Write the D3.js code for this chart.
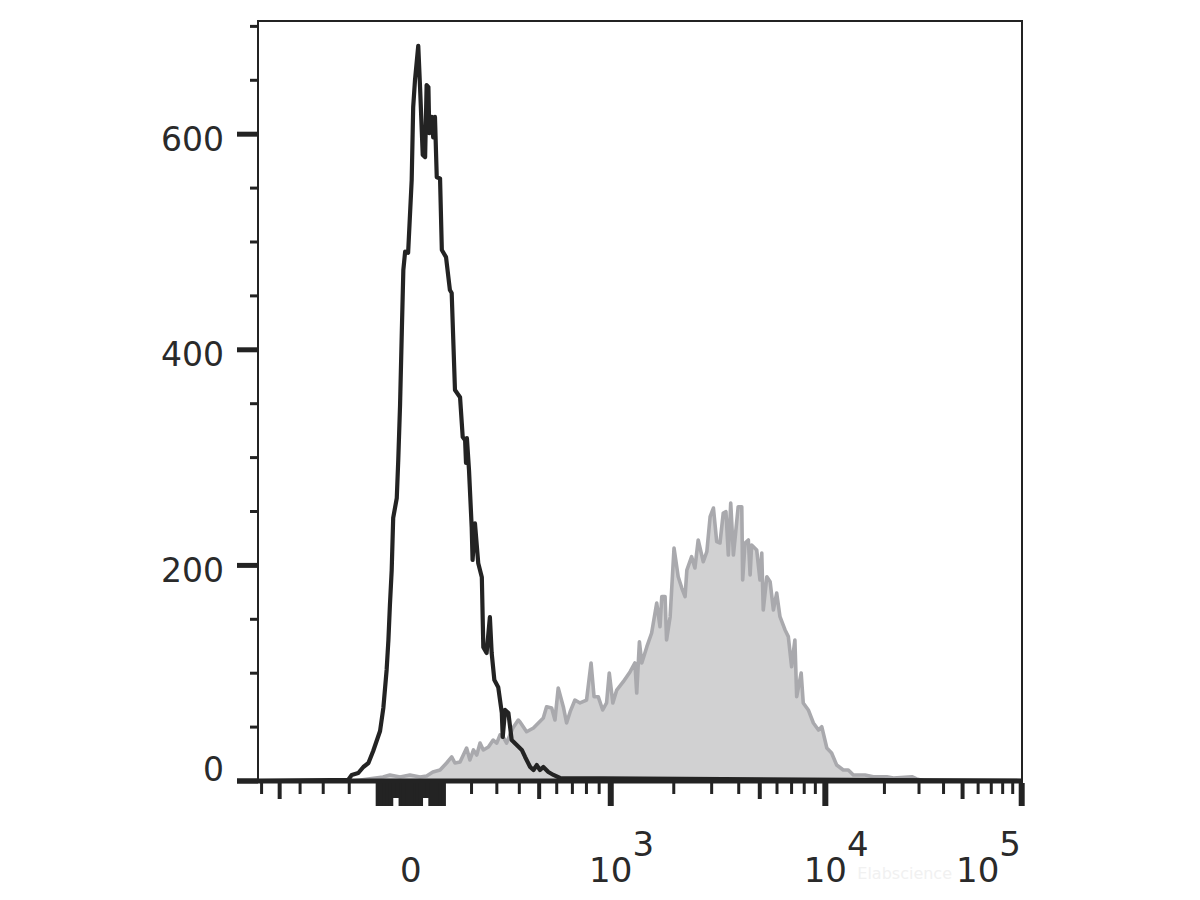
<!DOCTYPE html>
<html>
<head>
<meta charset="utf-8">
<script src="https://cdn.jsdelivr.net/npm/d3@7"></script>
<style>
  html, body { margin: 0; padding: 0; background: #ffffff; }
  svg { display: block; }
  text { font-family: "DejaVu Sans", Verdana, sans-serif; fill: #2a2a2a; }
</style>
</head>
<body>
<svg id="chart" width="1200" height="900"></svg>
<script>
// ---------------- DATA ----------------
// Histogram channels (0..256 display bins) and event counts
const isoChannel = [0, 30.2, 31.4, 33.6, 35.3, 37.0, 38.6, 40.9, 42.0, 43.1, 43.7, 44.2, 44.8, 45.3, 46.5, 47.0, 47.6, 48.2, 48.7, 49.3, 50.3, 51.5, 52.0, 52.6, 53.7, 54.3, 55.2, 56.0, 56.5, 57.1, 57.4, 58.2, 58.7, 59.3, 59.9, 61.0, 61.6, 63.0, 64.3, 64.9, 66.0, 67.7, 68.6, 69.4, 69.7, 70.0, 70.7, 71.6, 71.9, 72.7, 73.8, 75.0, 75.5, 76.6, 77.7, 78.3, 79.2, 80.5, 81.7, 82.0, 82.8, 83.9, 85.0, 86.7, 88.4, 89.5, 91.2, 92.3, 93.4, 94.5, 95.6, 97.3, 99.0, 101.2, 256];
const isoCount   = [0, 1, 5.6, 7.4, 13, 16.7, 27.8, 46.4, 67.7, 103, 130.8, 163, 195.7, 244, 262.5, 297.8, 348.8, 418, 474, 491, 490, 557.5, 625, 650, 682, 643.7, 580.7, 578.8, 645.6, 643.7, 601, 616, 597, 616, 560, 559, 492.6, 486, 455.5, 452.7, 362.7, 356, 319, 316, 295, 318, 288.5, 235.6, 205, 239, 202, 189, 124, 118.7, 152, 118.7, 93.7, 87, 63, 40.8, 65.9, 63, 38, 33.4, 28.8, 22.3, 13, 10.2, 14.8, 10.2, 13, 8.3, 5.6, 2.8, 0];

const stainChannel = [0, 31.8, 41.9, 44.2, 47.6, 50.9, 54.3, 56.5, 58.6, 61.0, 63.2, 64.9, 66.0, 67.7, 69.9, 71.0, 72.2, 73.3, 74.4, 75.5, 77.2, 78.8, 80.0, 81.1, 82.2, 83.3, 84.4, 85.4, 87.2, 87.8, 90.0, 92.3, 95.6, 96.7, 98.4, 99.5, 100.6, 102.3, 103.4, 104.6, 106.2, 107.9, 110.1, 111.6, 112.6, 114.0, 115.5, 116.8, 117.7, 118.9, 120.2, 122.4, 124.7, 126.3, 126.9, 127.8, 128.6, 130.3, 131.9, 133.6, 134.7, 135.3, 136.4, 136.9, 138.1, 139.4, 140.8, 142.0, 143.1, 143.7, 145.3, 146.4, 147.5, 149.2, 150.4, 151.5, 152.6, 153.7, 154.8, 155.9, 156.8, 157.6, 158.4, 159.3, 160.9, 162.1, 162.4, 163.2, 164.3, 164.9, 165.4, 167.1, 168.2, 168.8, 169.3, 170.5, 171.6, 172.7, 173.8, 174.9, 176.6, 177.7, 178.8, 179.9, 180.5, 182.0, 182.7, 184.4, 186.1, 187.8, 188.9, 190.6, 192.2, 193.9, 196.1, 197.8, 199.5, 203.4, 206.2, 210.7, 212.9, 219.1, 220.7, 223.5, 256];
const stainCount   = [0, 0, 3.7, 5.6, 3.7, 5.6, 3.7, 4.6, 8.3, 10.2, 16.7, 22.3, 16.7, 17.6, 30.6, 19.5, 28.8, 24.1, 35.2, 28.8, 31.5, 38, 35.2, 42.7, 40.8, 35.2, 42.7, 49.2, 56.5, 54.7, 45.7, 49.2, 58.4, 68.9, 67.7, 56.6, 86.3, 68.9, 53.8, 64.3, 75.1, 72.4, 75.1, 109.5, 78.2, 78.2, 65.9, 72.4, 100.2, 72.4, 84.4, 92.1, 101.4, 109.5, 81.6, 129.2, 109.5, 124.6, 137.3, 165.1, 143.1, 171, 171, 130.8, 152.4, 216.1, 189.5, 179, 171, 195.7, 208.1, 197.6, 223.6, 203.4, 212.7, 245.2, 253.2, 222, 220.8, 248.6, 249.8, 209.6, 257.9, 209.6, 254.4, 254.4, 186.5, 220.8, 223.6, 191.1, 218.9, 214.3, 186.5, 211.5, 158.6, 189.5, 184.9, 158.6, 174.4, 152.4, 140.1, 133.9, 106, 130.8, 78.2, 100.2, 72.4, 65.9, 53.8, 47.3, 50.4, 30.6, 26, 14.8, 10.2, 10.2, 5.6, 5.6, 4.0, 4.0, 2.8, 4.0, 1.9, 0, 0];

// Axis: biexponential display, calibration values (fluorescence) and their display channels
const xCalibValues   = [-600, -100, 0, 100, 1000, 10000, 100000];
const xCalibChannels = [1.2, 40.2, 51.2, 62.2, 118.2, 190.1, 255.9];

const xMajorTicks  = [0, 1000, 10000, 100000];
const xMediumTicks = [-500, 500, 5000, 50000];
const xMinorTicks  = [-600, -400, -300, -200, 200, 300, 400, 600, 700, 800, 900,
                      2000, 3000, 4000, 6000, 7000, 8000, 9000,
                      20000, 30000, 40000, 60000, 70000, 80000, 90000];
const xZeroLongTicks   = [-100, -90, -80, -70, -60, -30, -20, -10, 10, 20, 30, 60, 70, 80, 90, 100];
const xZeroMediumTicks = [-50, -40, 40, 50];
const xLabels = [{v: 0, base: "0", exp: ""}, {v: 1000, base: "10", exp: "3"},
                 {v: 10000, base: "10", exp: "4"}, {v: 100000, base: "10", exp: "5"}];

const yMajorTicks = [0, 200, 400, 600];
const yMinorTicks = [50, 100, 150, 250, 300, 350, 450, 500, 550, 650, 700];
const yMax = 705;

// ---------------- LAYOUT ----------------
const L = 258, R = 1022, T = 21, B = 781;
const svg = d3.select("#chart");

const x = d3.scaleLinear().domain([0, 256]).range([L, R]);
const y = d3.scaleLinear().domain([0, yMax]).range([B, T]);
const asinhT = v => Math.asinh(v / 400);
const valueToChannel = d3.scaleLinear().domain(xCalibValues.map(asinhT)).range(xCalibChannels);
const xv = v => x(valueToChannel(asinhT(v)));

const dark = "#232323";

svg.append("defs").append("clipPath").attr("id", "plotclip")
  .append("rect").attr("x", L).attr("y", T - 2).attr("width", R - L).attr("height", B - T + 2);

const plot = svg.append("g").attr("clip-path", "url(#plotclip)");

const stainData = stainChannel.map((c, i) => [c, stainCount[i]]);
const isoData = isoChannel.map((c, i) => [c, isoCount[i]]);

plot.append("path").datum(stainData)
  .attr("d", d3.area().x(d => x(d[0])).y0(y(0)).y1(d => y(d[1])))
  .attr("fill", "#d1d1d2");
plot.append("path").datum(stainData)
  .attr("d", d3.line().x(d => x(d[0])).y(d => y(d[1])))
  .attr("fill", "none").attr("stroke", "#a9a9ad").attr("stroke-width", 3.6).attr("stroke-linejoin", "round");
plot.append("path").datum(isoData)
  .attr("d", d3.line().x(d => x(d[0])).y(d => y(d[1])))
  .attr("fill", "none").attr("stroke", dark).attr("stroke-width", 4.2).attr("stroke-linejoin", "round");

// frame
svg.append("line").attr("x1", L).attr("x2", L).attr("y1", T).attr("y2", B).attr("stroke", dark).attr("stroke-width", 2);
svg.append("line").attr("x1", L - 1).attr("x2", R + 1).attr("y1", T).attr("y2", T).attr("stroke", dark).attr("stroke-width", 2);
svg.append("line").attr("x1", R).attr("x2", R).attr("y1", T).attr("y2", B).attr("stroke", dark).attr("stroke-width", 2);

// y ticks
svg.append("g").selectAll("line").data(yMinorTicks).join("line")
  .attr("x1", 250).attr("x2", L).attr("y1", d => y(d)).attr("y2", d => y(d))
  .attr("stroke", dark).attr("stroke-width", 3);
svg.append("g").selectAll("line").data(yMajorTicks).join("line")
  .attr("x1", 237).attr("x2", L).attr("y1", d => y(d)).attr("y2", d => y(d))
  .attr("stroke", dark).attr("stroke-width", 5);

// x axis line
svg.append("line").attr("x1", 237).attr("x2", R + 1).attr("y1", B).attr("y2", B)
  .attr("stroke", dark).attr("stroke-width", 5);

// x ticks
const tickTop = B + 2;
function drawTicks(vals, len, w) {
  svg.append("g").selectAll("line").data(vals).join("line")
    .attr("x1", d => xv(d)).attr("x2", d => xv(d))
    .attr("y1", tickTop).attr("y2", tickTop + len)
    .attr("stroke", dark).attr("stroke-width", w);
}
drawTicks(xMinorTicks, 11, 3);
drawTicks(xMediumTicks, 16, 4);
drawTicks(xZeroLongTicks, 23, 4.6);
drawTicks(xZeroMediumTicks, 15, 4.6);
drawTicks(xMajorTicks, 23, 6);

// y labels
svg.append("g").selectAll("text").data(yMajorTicks).join("text")
  .attr("x", 224)
  .attr("y", d => d === 0 ? y(d) - 12 : y(d) + 5)
  .attr("text-anchor", "end")
  .attr("dominant-baseline", "central")
  .attr("font-size", 33)
  .text(d => d);

// x labels
const xl = svg.append("g").selectAll("text").data(xLabels).join("text")
  .attr("font-size", 34)
  .attr("y", 882);
xl.each(function(d) {
  const t = d3.select(this);
  t.append("tspan").text(d.base);
  if (d.exp) t.append("tspan").attr("dy", -26).text(d.exp);
  const baseW = this.querySelector("tspan").getComputedTextLength();
  const totalW = this.getComputedTextLength();
  let x0 = xv(d.v) - baseW / 2;
  if (x0 + totalW > R) x0 = R - 1 - totalW;
  t.attr("x", x0);
});

// faint watermark
svg.append("text").attr("x", 952).attr("y", 879).attr("font-size", 16)
  .attr("text-anchor", "end")
  .style("fill", "#f1f1f1").text("Elabscience");
</script>
</body>
</html>
